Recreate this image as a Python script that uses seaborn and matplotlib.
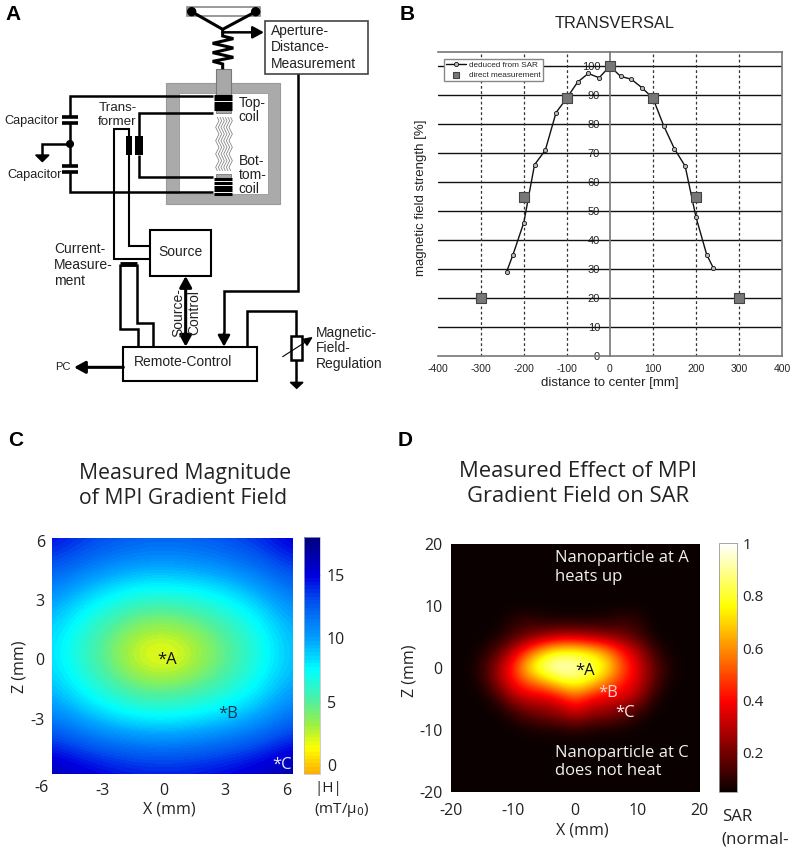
import numpy as np
import matplotlib
matplotlib.use('Agg')
import matplotlib.pyplot as plt
from matplotlib.patches import Rectangle, Polygon, Circle
from matplotlib.transforms import blended_transform_factory
import seaborn as sns

# panel B values
sar_x = [-240, -225, -200, -175, -150, -125, -100, -75, -50, -25, 0, 25, 50, 75, 100, 125, 150, 175, 200, 225, 240]
sar_y = [29, 35, 46, 66, 71, 84, 89, 94.5, 97.5, 96, 100, 96.5, 95.5, 92.5, 89, 79.5, 71.5, 65.5, 48, 35, 30.5]
direct_x = [-300, -200, -100, 0, 100, 200, 300]
direct_y = [20, 55, 89, 100, 89, 55, 20]

# panel C values, |H|
c_x = [-5.5, -4.03, -2.56, -1.09, 0.38, 1.85, 3.32, 4.79, 6.27]
c_z = [6.15, 4.65, 3.15, 1.65, 0.15, -1.35, -2.85, -4.35, -5.83]
c_h = [[14.9, 13.8, 13.0, 12.5, 12.4, 12.7, 13.3, 14.2, 15.6],
       [12.8, 11.5, 10.5, 9.9, 9.9, 10.2, 10.9, 12.0, 13.5],
       [10.4, 8.7, 7.4, 6.4, 6.4, 6.9, 7.9, 9.4, 11.2],
       [8.8, 6.7, 4.8, 3.3, 3.2, 4.2, 5.7, 7.5, 9.7],
       [8.3, 6.0, 3.8, 1.2, 0.8, 2.9, 4.8, 6.9, 9.2],
       [9.1, 7.1, 5.4, 4.0, 3.9, 4.8, 6.1, 7.9, 9.9],
       [11.0, 9.4, 8.1, 7.3, 7.3, 7.8, 8.6, 9.9, 11.7],
       [14.0, 12.8, 11.9, 11.4, 11.3, 11.7, 12.3, 13.2, 14.6],
       [16.5, 15.7, 15.0, 14.6, 14.5, 14.8, 15.3, 16.0, 17.1]]
c_colors = ['#ffb000', '#ffff00', '#a0f040', '#50f0a0', '#00ffff', '#00a0ff', '#0050f0', '#0000e0', '#000080']
c_color_pos = [-0.73, 1.2, 3, 5, 7.5, 10, 13, 15, 17.97]

# panel D values, SAR
d_x = [-20, -17.5, -15, -12.5, -10, -7.5, -5, -2.5, 0, 2.5, 5, 7.5, 10, 12.5, 15, 17.5, 20]
d_z = [20, 17.5, 15, 12.5, 10, 7.5, 5, 2.5, 0, -2.5, -5, -7.5, -10, -12.5, -15, -17.5, -20]
d_sar = [[.05] * 17,
         [.05] * 17,
         [.05] * 17,
         [.05] * 17,
         [.05] * 17,
         [.05, .05, .05, .05, .09, .11, .08, .07, .07, .07, .08, .11, .10, .05, .05, .05, .05],
         [.05, .05, .05, .07, .13, .20, .25, .30, .30, .27, .24, .20, .14, .06, .05, .05, .05],
         [.05, .05, .07, .16, .32, .52, .70, .80, .80, .74, .62, .44, .30, .13, .06, .05, .05],
         [.05, .05, .11, .26, .46, .74, .92, .99, .95, .87, .76, .52, .36, .19, .08, .05, .05],
         [.05, .05, .08, .24, .40, .52, .60, .74, .80, .72, .57, .44, .34, .17, .06, .05, .05],
         [.05, .05, .05, .11, .26, .32, .32, .38, .50, .38, .34, .34, .26, .09, .05, .05, .05],
         [.05, .05, .05, .05, .10, .17, .21, .25, .31, .25, .23, .17, .10, .05, .05, .05, .05],
         [.05, .05, .05, .05, .05, .06, .07, .07, .09, .07, .06, .06, .05, .05, .05, .05, .05],
         [.05] * 17,
         [.05] * 17,
         [.05] * 17,
         [.05] * 17]

sns.set_theme(style='white')
arial = ['Liberation Sans', 'DejaVu Sans']
myriad = ['Open Sans', 'DejaVu Sans']
plt.rcParams['font.family'] = arial
plt.rcParams['axes.unicode_minus'] = False

W, H = 794, 852
fig = plt.figure(figsize=(W / 100, H / 100), dpi=100, facecolor='white')


def px_axes(x0, y0, x1, y1):
    return fig.add_axes([x0 / W, 1 - y1 / H, (x1 - x0) / W, (y1 - y0) / H])


def cell_extent(xs, zs):
    dx = abs(xs[1] - xs[0]) / 2
    dz = abs(zs[1] - zs[0]) / 2
    return [min(xs) - dx, max(xs) + dx, min(zs) - dz, max(zs) + dz]


# ---------- A: schematic, coordinates in 3x zoom pixels ----------
ax = px_axes(0, 0, 400, 400)
ax.set_xlim(0, 1200)
ax.set_ylim(1200, 0)
ax.axis('off')


def wire(points, lw=1.8, color='black', z=3):
    xs, ys = zip(*points)
    ax.plot(xs, ys, color=color, lw=lw, solid_joinstyle='miter', solid_capstyle='butt', zorder=z)


def box(x0, y0, x1, y1, fc='white', ec='black', lw=1.5, z=2):
    ax.add_patch(Rectangle((x0, y0), x1 - x0, y1 - y0, fc=fc, ec=ec, lw=lw, zorder=z))


def arrow(start, end, lw=1.8, both=False):
    style = '<|-|>' if both else '-|>'
    ax.annotate('', xy=end, xytext=start, zorder=4,
                arrowprops=dict(arrowstyle=style + ',head_width=0.3,head_length=0.55', color='black', lw=lw,
                                shrinkA=0, shrinkB=0))


def label(x, y, s, size=10):
    ax.text(x, y, s, fontsize=size, ha='left', va='center', color='#222222', linespacing=1.1, zorder=5)


# aperture head and spring
box(560, 20, 780, 47, fc='white', ec='#888888', lw=1.2)
wire([(575, 35), (668, 88), (767, 35)], lw=2.2)
ax.add_patch(Circle((575, 35), 12, color='black', zorder=4))
ax.add_patch(Circle((767, 35), 12, color='black', zorder=4))
wire([(668, 88), (668, 108), (700, 116), (638, 130), (700, 144), (638, 158), (700, 172), (638, 184), (668, 192), (668, 208)], lw=2.2)
arrow((668, 97), (792, 97))
box(795, 63, 1105, 222, ec='#444444', lw=1.2)
label(813, 92, 'Aperture-')
label(813, 142, 'Distance-')
label(813, 191, 'Measurement')
wire([(893, 222), (893, 873), (672, 873), (672, 1000)])
arrow((672, 1000), (672, 1040))

# magnet frame and coils
box(499, 248, 840, 613, fc='#aaaaaa', ec='#999999', lw=0.8, z=1)
box(536, 279, 803, 583, fc='white', ec='#999999', lw=0.6, z=1)
box(648, 208, 692, 285, fc='#a8a8a8', ec='#777777', lw=0.8)
box(648, 328, 692, 340, fc='#a8a8a8', ec='#777777', lw=0.6)
box(648, 522, 692, 535, fc='#a8a8a8', ec='#777777', lw=0.6)
for y in [288, 298, 308, 318, 328, 538, 549, 560, 571, 581]:
    wire([(641, y), (697, y)], lw=2.2)
wave_dx = [0, 5, 0, -5, 0, 5, 0, -5, 0, 5, 0, -5, 0, 5, 0, -5, 0]
wave_y = [352, 362, 372, 382, 392, 402, 412, 422, 432, 442, 452, 462, 472, 482, 492, 502, 512]
for x0 in [652, 660, 668, 676, 684, 692]:
    ax.plot([x0 + d for d in wave_dx], wave_y, color='#888888', lw=0.6, zorder=2)
label(716, 310, 'Top-')
label(716, 352, 'coil')
label(716, 482, 'Bot-')
label(716, 524, 'tom-')
label(716, 566, 'coil')

# capacitors and ground
wire([(640, 288), (210, 288), (210, 350)])
wire([(210, 368), (210, 497)])
wire([(210, 516), (210, 577), (640, 577)])
for y in [350, 368, 497, 516]:
    wire([(187, y), (235, y)], lw=2.6)
ax.add_patch(Circle((210, 432), 10, color='black', zorder=4))
wire([(210, 432), (127, 432), (127, 465)])
ax.add_patch(Polygon([(107, 465), (147, 465), (127, 485)], color='black', zorder=4))
label(13, 362, 'Capacitor', size=9.2)
label(22, 524, 'Capacitor', size=9.2)

# transformer
label(295, 323, 'Trans-', size=9.6)
label(295, 365, 'former', size=9.6)
wire([(640, 338), (417, 338), (417, 408)])
wire([(417, 466), (417, 532), (640, 532)])
box(406, 408, 428, 466, fc='black', lw=0)
box(377, 408, 397, 466, fc='black', lw=0)
wire([(387, 408), (387, 388), (343, 388), (343, 777), (450, 777)], lw=1.5)
wire([(387, 466), (387, 738), (450, 738)], lw=1.5)

# source and remote control
box(450, 690, 633, 828)
label(476, 755, 'Source')
label(163, 748, 'Current-')
label(163, 795, 'Measure-')
label(163, 842, 'ment')
wire([(360, 792), (412, 792)], lw=3.5)
wire([(360, 792), (360, 987), (414, 987), (414, 1040)])
wire([(412, 792), (412, 968), (458, 968), (458, 1040)])
arrow((557, 828), (557, 1040), lw=2.2, both=True)
ax.text(534, 938, 'Source-', fontsize=10, rotation=90, ha='center', va='center', color='#222222', zorder=5)
ax.text(584, 938, 'Control', fontsize=10, rotation=90, ha='center', va='center', color='#222222', zorder=5)
box(370, 1040, 770, 1142)
label(401, 1087, 'Remote-Control')
arrow((370, 1102), (222, 1102), lw=2.2)
ax.text(189, 1102, 'PC', fontsize=8, ha='center', va='center', color='#222222')

# field regulation
wire([(740, 1040), (740, 932), (888, 932), (888, 1008)])
box(873, 1008, 907, 1080, lw=1.8)
wire([(888, 1080), (888, 1147)])
ax.add_patch(Polygon([(871, 1147), (909, 1147), (890, 1165)], color='black', zorder=4))
ax.plot([848, 918], [1070, 1025], color='black', lw=0.8, zorder=4)
ax.add_patch(Polygon([(910, 1018), (935, 1013), (921, 1036)], color='black', zorder=4))
label(949, 998, 'Magnetic-')
label(949, 1045, 'Field-')
label(949, 1092, 'Regulation')

# ---------- B: field profile ----------
ax = px_axes(437.7, 51.7, 782, 356)
ax.set_xlim(-400, 400)
ax.set_ylim(0, 105)
ax.set_axisbelow(True)
for y in range(10, 101, 10):
    ax.axhline(y, color='#111111', lw=1, zorder=1)
for x in [-300, -200, -100, 100, 200, 300]:
    ax.axvline(x, color='#333333', lw=0.9, ls=(0, (2.2, 2)), zorder=1)
sns.lineplot(x=sar_x, y=sar_y, ax=ax, color='#111111', lw=1, sort=False, marker='o', markersize=3,
             markerfacecolor='#bbbbbb', markeredgecolor='#111111', markeredgewidth=0.6,
             label='deduced from SAR', zorder=4)
sns.scatterplot(x=direct_x, y=direct_y, ax=ax, marker='s', s=55, color='#777777', edgecolor='#444444',
                linewidth=0.8, label='direct measurement', zorder=5)
ax.set_xticks(range(-400, 401, 100))
ax.set_yticks(range(0, 101, 10))
ax.spines['left'].set_position(('data', 0))
for spine in ax.spines.values():
    spine.set_color('#777777')
    spine.set_linewidth(1.2)
ax.tick_params(axis='x', length=2, width=0.6, labelsize=7.5, pad=4, color='#555555', labelcolor='#222222')
ax.tick_params(axis='y', length=0, labelsize=8, pad=7, labelcolor='#222222')
ax.set_xlabel('distance to center [mm]', fontsize=9.5, labelpad=2, color='#222222')
ax.set_ylabel('magnetic field strength [%]', fontsize=9.5, color='#222222')
ax.yaxis.set_label_coords(-0.03, 0.52)
leg = ax.legend(loc='upper left', bbox_to_anchor=(0.018, 0.976), fontsize=5.9, frameon=True, fancybox=False,
                edgecolor='#888888', borderpad=0.25, labelspacing=0.3, framealpha=1, handlelength=2.4,
                handletextpad=0.4, borderaxespad=0)
leg.legend_handles[1].set_sizes([14])
leg.set_zorder(6)
fig.text(614.5 / W, 1 - 24 / H, 'TRANSVERSAL', fontsize=11.7, ha='center', va='center', color='#222222')

# ---------- C: gradient field magnitude ----------
ax = px_axes(51.7, 538.3, 291.7, 774.3)
c_stops = [(p - c_color_pos[0]) / (c_color_pos[-1] - c_color_pos[0]) for p in c_color_pos]
c_cmap = matplotlib.colors.LinearSegmentedColormap.from_list('field', list(zip(c_stops, c_colors)), N=64)
im = ax.imshow(np.array(c_h), cmap=c_cmap, vmin=c_color_pos[0], vmax=c_color_pos[-1], origin='upper',
               extent=cell_extent(c_x, c_z), interpolation='bicubic', aspect='auto')
ax.set_xlim(c_x[0], c_x[-1])
ax.set_ylim(c_z[-1], c_z[0])
ax.set_xticks([-3, 0, 3, 6])
ax.set_yticks([-3, 0, 3, 6])
ax.tick_params(axis='x', length=0, labelsize=11.5, labelcolor='#222222', pad=6)
ax.tick_params(axis='y', length=0, labelsize=11.5, labelcolor='#222222', pad=5)
for t in ax.get_xticklabels() + ax.get_yticklabels():
    t.set_family(myriad)
sns.despine(ax=ax, left=True, bottom=True)
tr = blended_transform_factory(ax.transData, ax.transAxes)
ax.text(-6, -0.058, '-6', transform=tr, fontsize=11.5, ha='center', va='center', color='#222222', family=myriad, clip_on=False)
ax.set_xlabel('X (mm)', fontsize=11.5, family=myriad, color='#222222')
ax.xaxis.set_label_coords(0.489, -0.117)
ax.set_ylabel('Z (mm)', fontsize=11.5, family=myriad, color='#222222')
ax.yaxis.set_label_coords(-0.099, 0.455)
ax.text(-0.3, -0.05, '*A', fontsize=12, family=myriad, ha='left', va='center', color='#111111')
ax.text(2.65, -2.75, '*B', fontsize=12, family=myriad, ha='left', va='center', color='#0a3a50')
ax.text(5.3, -5.35, '*C', fontsize=12, family=myriad, ha='left', va='center', color='#e8e8ff')
cax = px_axes(303.7, 537.3, 320, 774.3)
cb = fig.colorbar(im, cax=cax)
cb.set_ticks([0, 5, 10, 15])
cb.outline.set_edgecolor('#bbbbbb')
cb.outline.set_linewidth(0.5)
cax.tick_params(length=2, width=0.5, labelsize=11.5, labelcolor='#222222', pad=5, direction='in', color='#444444')
for t in cax.get_yticklabels():
    t.set_family(myriad)
fig.text(314 / W, 1 - 789 / H, '|H|', fontsize=11, family=myriad, color='#222222', ha='left', va='center')
fig.text(314 / W, 1 - 810 / H, '(mT/\u03bc$_0$)', fontsize=11, family=myriad, color='#222222', ha='left', va='center')
fig.text(185 / W, 1 - 486 / H, 'Measured Magnitude\nof MPI Gradient Field', fontsize=15.3, family=myriad,
         color='#222222', ha='center', va='center', linespacing=1.25, multialignment='left')

# ---------- D: SAR map ----------
ax = px_axes(451, 543.7, 699.3, 792.3)
im = ax.imshow(np.array(d_sar), cmap='hot', vmin=0.05, vmax=1, origin='upper', extent=cell_extent(d_x, d_z),
               interpolation='bicubic', aspect='auto')
ax.set_xlim(-20, 20)
ax.set_ylim(-20, 20)
ax.set_xticks(range(-20, 21, 10))
ax.set_yticks(range(-20, 21, 10))
ax.tick_params(axis='x', length=0, labelsize=11.5, labelcolor='#222222', pad=8)
ax.tick_params(axis='y', length=0, labelsize=11.5, labelcolor='#222222', pad=6)
for t in ax.get_xticklabels() + ax.get_yticklabels():
    t.set_family(myriad)
sns.despine(ax=ax, left=True, bottom=True)
ax.set_xlabel('X (mm)', fontsize=11.5, family=myriad, color='#222222')
ax.xaxis.set_label_coords(0.528, -0.12)
ax.set_ylabel('Z (mm)', fontsize=11.5, family=myriad, color='#222222')
ax.yaxis.set_label_coords(-0.133, 0.49)
ax.text(0, -0.5, '*A', fontsize=12, family=myriad, ha='left', va='center', color='#111111')
ax.text(3.7, -4, '*B', fontsize=12, family=myriad, ha='left', va='center', color='#ffd0d0')
ax.text(6.5, -7.3, '*C', fontsize=12, family=myriad, ha='left', va='center', color='#ffe8e8')
ax.text(-3.2, 16.2, 'Nanoparticle at A\nheats up', fontsize=12, family=myriad, ha='left', va='center',
        color='#f0f0f0', linespacing=1.2)
ax.text(-3.2, -15.1, 'Nanoparticle at C\ndoes not heat', fontsize=12, family=myriad, ha='left', va='center',
        color='#f0f0f0', linespacing=1.2)
cax = px_axes(719.3, 543.3, 736.7, 792)
cb = fig.colorbar(im, cax=cax)
cb.set_ticks([0.2, 0.4, 0.6, 0.8, 1])
cb.set_ticklabels(['0.2', '0.4', '0.6', '0.8', '1'])
cb.outline.set_edgecolor('#999999')
cb.outline.set_linewidth(0.6)
cax.tick_params(length=2, width=0.5, labelsize=11, labelcolor='#222222', pad=4, direction='in', color='#444444')
for t in cax.get_yticklabels():
    t.set_family(myriad)
fig.text(721.7 / W, 1 - 817 / H, 'SAR', fontsize=12.2, family=myriad, color='#222222', ha='left', va='center')
fig.text(721.7 / W, 1 - 839 / H, '(normal-', fontsize=12.2, family=myriad, color='#222222', ha='left', va='center')
fig.text(578 / W, 1 - 484 / H, 'Measured Effect of MPI\nGradient Field on SAR', fontsize=15.8, family=myriad,
         color='#222222', ha='center', va='center', linespacing=1.3)

# panel letters
for s, x, y in [('A', 5, 15), ('B', 400, 15), ('C', 8, 440), ('D', 398, 440)]:
    fig.text(x / W, 1 - y / H, s, fontsize=15, fontweight='bold', ha='left', va='center', color='black')

fig.savefig('out.png', dpi=100)
